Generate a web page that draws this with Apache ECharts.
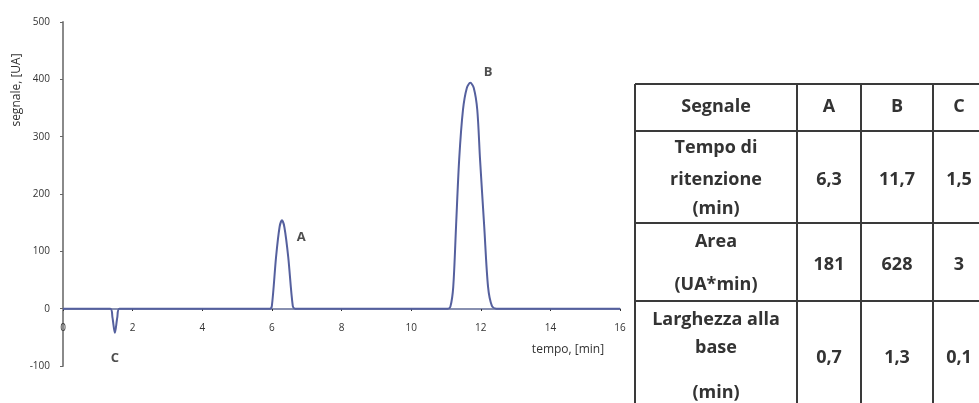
<!DOCTYPE html>
<html>
<head>
<meta charset="utf-8">
<script src="https://cdn.jsdelivr.net/npm/echarts@6/dist/echarts.min.js"></script>
<style>html,body{margin:0;padding:0;background:#fff}#c{width:979px;height:403px}</style>
</head>
<body>
<div id="c"></div>
<script>
// chromatogram trace: [tempo (min), segnale (UA)]
var traceTime = [0, 1.36, 1.42, 1.49, 1.56, 1.62, 5.94, 6.0, 6.12, 6.22, 6.29, 6.36, 6.47, 6.6, 6.67,
  11.05, 11.13, 11.21, 11.29, 11.38, 11.49, 11.6, 11.7, 11.8, 11.9, 11.98, 12.1, 12.21, 12.32, 12.45, 16];
var traceSignal = [0, 0, -15, -42, -15, 0, 0, 5, 90, 142, 154, 142, 90, 5, 0,
  0, 4, 38, 143, 260, 347, 385, 394, 385, 347, 260, 143, 38, 5, 0, 0];
// peak labels
var peakNames = ['A', 'B', 'C'];
var peakLabelX = [6.84, 12.21, 1.49];
var peakLabelY = [124, 412, -86];
// axes
var xTicks = [0, 16, 2];
var yTicks = [-100, 500, 100];
var xName = 'tempo, [min]';
var yName = 'segnale, [UA]';
// table
var tableHeader = ['Segnale', 'A', 'B', 'C'];
var rowRitenzione = [['Tempo di', 'ritenzione', '(min)'], '6,3', '11,7', '1,5'];
var rowArea = [['Area', '(UA*min)'], '181', '628', '3'];
var rowLarghezza = [['Larghezza alla', 'base', '(min)'], '0,7', '1,3', '0,1'];

var traceData = traceTime.map(function (t, i) { return [t, traceSignal[i]]; });
var labelData = peakNames.map(function (n, i) { return [peakLabelX[i], peakLabelY[i], n]; });

// table layout (pixels)
var colX = [635, 797, 861, 933, 1000];
var colCenter = [716, 829, 897, 959];
var rowY = [84, 131, 223, 301, 420];
var lineYs = [[107], [148, 180, 209], [242, 285], [320, 348, 393]];
var valueY = [107, 180, 265, 358];
var rows = [tableHeader, rowRitenzione, rowArea, rowLarghezza];
var graphics = [];
var lineStyle = { stroke: '#3a3a3a', lineWidth: 2 };
colX.forEach(function (x) {
  graphics.push({ type: 'line', shape: { x1: x, y1: rowY[0], x2: x, y2: rowY[rowY.length - 1] }, style: lineStyle, silent: true });
});
rowY.forEach(function (y) {
  graphics.push({ type: 'line', shape: { x1: colX[0], y1: y, x2: colX[colX.length - 1], y2: y }, style: lineStyle, silent: true });
});
var tFont = 'bold 18px "Open Sans", sans-serif';
function addText(txt, x, y) {
  graphics.push({ type: 'text', x: x, y: y, silent: true,
    style: { text: txt, align: 'center', verticalAlign: 'middle', font: tFont, fill: '#333' } });
}
rows.forEach(function (r, ri) {
  r.forEach(function (cell, ci) {
    if (Array.isArray(cell)) {
      cell.forEach(function (ln, li) { addText(ln, colCenter[ci], lineYs[ri][li]); });
    } else {
      addText(cell, colCenter[ci], ci === 0 ? lineYs[ri][0] : valueY[ri]);
    }
  });
});
graphics.push({ type: 'text', x: 568, y: 350, style: { text: xName, align: 'center', verticalAlign: 'middle', font: '12px "Open Sans", sans-serif', fill: '#333' } });
graphics.push({ type: 'text', x: 17, y: 90, rotation: Math.PI / 2, style: { text: yName, align: 'center', verticalAlign: 'middle', font: '12px "Open Sans", sans-serif', fill: '#333' } });

var chart = echarts.init(document.getElementById('c'), null, { renderer: 'canvas' });
chart.setOption({
  animation: false,
  backgroundColor: '#fff',
  grid: { left: 63, right: 359, top: 22, bottom: 37, containLabel: false },
  xAxis: {
    type: 'value', min: xTicks[0], max: xTicks[1], interval: xTicks[2],
    position: 'bottom', offset: -57,
    axisLine: { onZero: false, lineStyle: { color: '#8890b0', width: 2 } },
    axisTick: { show: true, inside: false, length: 2, lineStyle: { color: '#333' } },
    axisLabel: { margin: 14, fontSize: 10, color: '#333', fontFamily: 'Open Sans' },
    splitLine: { show: false }
  },
  yAxis: {
    type: 'value', min: yTicks[0], max: yTicks[1], interval: yTicks[2],
    axisLine: { show: true, onZero: false, lineStyle: { color: '#8a8a8a', width: 2 } },
    axisTick: { show: true, length: 3, lineStyle: { color: '#666' } },
    axisLabel: { margin: 13, fontSize: 10, color: '#333', fontFamily: 'Open Sans' },
    splitLine: { show: false }
  },
  series: [
    {
      type: 'line', data: traceData, smooth: 0.3, showSymbol: false,
      lineStyle: { color: '#55609e', width: 2 }
    },
    {
      type: 'scatter', data: labelData, symbolSize: 0,
      label: { show: true, position: 'inside', formatter: function (p) { return p.data[2]; },
        fontSize: 13, fontWeight: 'bold', color: '#222', fontFamily: 'Open Sans' }
    }
  ],
  graphic: graphics
});
</script>
</body>
</html>
